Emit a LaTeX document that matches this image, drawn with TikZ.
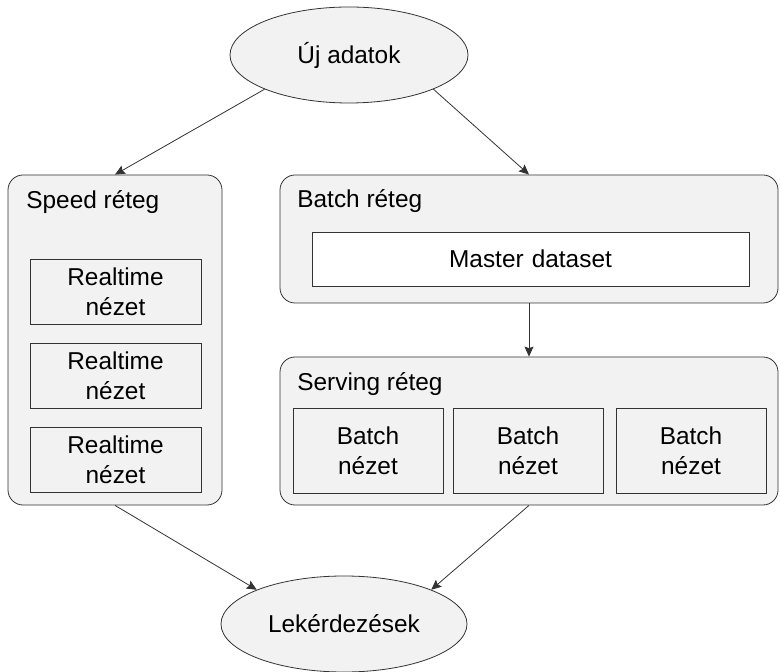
\documentclass[tikz,border=0pt]{standalone}
\usepackage{fontspec}
\setmainfont{Liberation Sans}
\usetikzlibrary{shapes.geometric,arrows.meta}
\definecolor{boxgray}{HTML}{F2F2F2}
\definecolor{linegray}{HTML}{333333}

\begin{document}
\begin{tikzpicture}[x=0.5pt,y=-0.5pt,node distance=42pt,font=\fontsize{12.2}{15}\selectfont]
			\tikzstyle{layer} = [rectangle, draw=linegray, fill=boxgray, rounded corners=7.5pt, inner sep=0pt];
			\tikzstyle{view} = [rectangle, draw=linegray, fill=boxgray, align=center, inner sep=0pt];
			\tikzstyle{ends} = [ellipse, draw=linegray, fill=boxgray, inner sep=0pt, minimum height=48pt];
			\tikzstyle{lbl} = [anchor=base west, inner sep=0pt];
			\tikzstyle{arr} = [draw=linegray, -{Stealth[length=5pt,width=4.5pt,inset=0.8pt]}];
			\useasboundingbox (0,0) rectangle (780,672);

			\draw node [ends, minimum width=119pt] (uj) at (349,55) {Új adatok};
			\draw node [ends, minimum width=123pt] (lek) at (344,624) {Lekérdezések};

			% retegek
			\draw node [layer, minimum width=107pt, minimum height=165pt] (speed) at (115,340) {};
			\draw node [layer, minimum width=249pt, minimum height=64pt] (batch) at (529,239) {};
			\draw node [layer, minimum width=249pt, minimum height=74pt] (serving) at (529,431) {};
			\draw node [lbl] (speedlbl) at (26,209) {Speed réteg};
			\draw node [lbl] (batchlbl) at (297,208) {Batch réteg};
			\draw node [lbl] (servlbl) at (297,391) {Serving réteg};

			% nezetek
			\draw node [view, text width=85.5pt, minimum height=32.5pt] (rt1) at (115.5,291.5) {Realtime\\nézet};
			\draw node [view, text width=85.5pt, minimum height=32.5pt, below of=rt1] (rt2) {Realtime\\nézet};
			\draw node [view, text width=85.5pt, minimum height=32.5pt, below of=rt2] (rt3) {Realtime\\nézet};
			\draw node [view, fill=white, text width=218.5pt, minimum height=27pt] (master) at (530.5,259) {Master dataset};
			\draw node [view, text width=75pt, minimum height=42.5pt] (bv1) at (368,450.5) {Batch\\nézet};
			\draw node [view, text width=75pt, minimum height=42.5pt, right of=bv1, node distance=80pt] (bv2) {Batch\\nézet};
			\draw node [view, text width=75pt, minimum height=42.5pt, right of=bv2, node distance=81.5pt] (bv3) {Batch\\nézet};

			\draw [arr] (uj.south west) -- (speed.north);
			\draw [arr] (uj.south east) -- (batch.north);
			\draw [arr] (batch.south) -- (serving.north);
			\draw [arr] (speed.south) -- (lek.north west);
			\draw [arr] (serving.south) -- (lek.north east);

		\end{tikzpicture}
\end{document}
